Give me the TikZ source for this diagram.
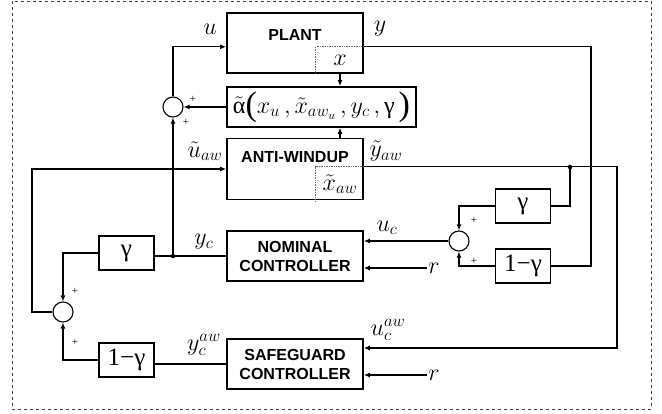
\RequirePackage{fix-cm}
\documentclass[tikz,border=0pt]{standalone}
\usepackage{fontspec}
\setsansfont{Liberation Sans}
\newfontfamily\tms{Liberation Serif}
\usetikzlibrary{arrows.meta}
\newcommand{\bigpar}[1]{\mbox{\fontsize{34}{34}\selectfont\tms\raisebox{-2pt}{#1}}}
\begin{document}
\begin{tikzpicture}[x=1pt, y=-1pt,
    block/.style={draw, line width=1.8pt, inner sep=0pt, align=center,
                  font=\fontsize{16}{19}\selectfont\sffamily\bfseries},
    bname/.style={font=\fontsize{16}{19}\selectfont\sffamily\bfseries},
    xbox/.style={inner sep=0pt, minimum width=48pt, font=\fontsize{24}{26}\selectfont},
    state/.style={draw=black!60, densely dotted, line width=0.7pt},
    gain/.style={block, font=\fontsize{25}{27}\selectfont\tms,
                 minimum width=55pt, minimum height=34pt},
    sum/.style={circle, draw, line width=1.1pt, minimum size=20pt, inner sep=0pt},
    sig/.style={font=\fontsize{24}{26}\selectfont, inner sep=1pt},
    plus/.style={font=\fontsize{11}{11}\selectfont\tms, inner sep=0pt},
    wire/.style={line width=1.1pt},
    feed/.style={wire, -{Latex[length=6pt,width=5pt]}},
    junct/.style={circle, fill, inner sep=1.6pt},
]
\useasboundingbox (0,0) rectangle (662,413);
\draw[dashed, black!75, line width=0.9pt] (12,1) rectangle (651,409);

% Plant with its state
\node[block, minimum width=136pt, minimum height=60pt] (plant) at (295,43) {};
\node[bname] (plantname) at (295,35) {PLANT};
\node[xbox, minimum height=26pt] (plantx) at (340,60) {$x$};
\draw[state] (plantx.south west) |- (plantx.north east);

% Correction term
\node[block, minimum width=189pt, minimum height=40pt,
      font=\fontsize{24}{26}\selectfont] (alpha) at (321.5,107)
      {$\tilde{\mbox{\tms α}}\bigpar{(}x_u\,,\tilde{x}_{aw_u}\,,y_c\,,\mbox{\tms γ}\,\bigpar{)}$};

% Anti-windup with its state
\node[block, minimum width=136pt, minimum height=61pt] (aw) at (295,169) {};
\node[bname] (awname) at (295,157) {ANTI-WINDUP};
\node[xbox, minimum height=34pt] (awx) at (340,184) {$\tilde{x}_{aw}$};
\draw[state] (awx.south west) |- (awx.north east);

% Controllers
\node[block, minimum width=136pt, minimum height=50pt] (nom) at (295,256) {NOMINAL\\CONTROLLER};
\node[block, minimum width=136pt, minimum height=50pt] (safe) at (295,364) {SAFEGUARD\\CONTROLLER};

% Gains
\node[gain] (gR) at (523,206) {γ};
\node[gain] (ngR) at (523,266) {1−γ};
\node[gain] (gL) at (126.5,253) {γ};
\node[gain] (ngL) at (126.5,360) {1−γ};

% Summing junctions
\node[sum] (sumU) at (173,107) {};
\node[sum] (sumC) at (459,241) {};
\node[sum] (sumA) at (63,312) {};

\node[junct] (dotaw) at (570,167) {};
\node[junct] (dotyc) at (173,256) {};
\coordinate (ycol) at (591,0);
\coordinate (awcol) at (617,0);
\coordinate (fbcol) at (32,0);

% Plant loop
\draw[feed] (sumU.north) |- (plantx.north -| plant.west);
\draw[feed] (plantx.south) -- (plantx.south |- alpha.north);
\draw[feed] (awx.north |- aw.north) -- (awx.north |- alpha.south);
\draw[feed] (alpha.west) -- (sumU.east);
\draw[wire] (plantx.north -| plant.east) -- (plantx.north -| ycol) |- (ngR.east);

% Anti-windup output
\draw[feed] (awx.north -| aw.east) -- (awx.north -| awcol) |- ([yshift=16pt]safe.east);
\draw[wire] (dotaw) |- (gR.east);

% Blend into nominal controller
\draw[feed] (gR.west) -| (sumC.north);
\draw[feed] (ngR.west) -| (sumC.south);
\draw[feed] (sumC.west) -- (sumC.west -| nom.east);
\node[sig] (rN) at (434,268) {$r$};
\node[sig] (rS) at (434,375) {$r$};
\draw[feed] (rN.west) -- (rN.west -| nom.east);
\draw[feed] (rS.west) -- (rS.west -| safe.east);

% Blend of controller outputs
\draw[wire] (nom.west) -- (nom.west -| gL.east);
\draw[feed] (dotyc) -- (sumU.south);
\draw[wire] (safe.west) -- (safe.west -| ngL.east);
\draw[feed] (gL.west) -| (sumA.north);
\draw[feed] (ngL.west) -| (sumA.south);
\draw[feed] (sumA.west) -| (fbcol |- aw.west) -- (aw.west);

% Signal labels
\node[sig] (lu) at (210,29) {$u$};
\node[sig] (ly) at (380,29) {$y$};
\node[sig] (luaw) at (205,151) {$\tilde{u}_{aw}$};
\node[sig] (lyaw) at (386,151) {$\tilde{y}_{aw}$};
\node[sig] (luc) at (387,228) {$u_c$};
\node[sig] (lyc) at (204,242) {$y_c$};
\node[sig] (lucaw) at (388,330) {$u_c^{aw}$};
\node[sig] (lycaw) at (204,345) {$y_c^{aw}$};

% Signs
\node[plus] (p1) at (193,99) {+};
\node[plus] (p2) at (186,122) {+};
\node[plus] (p3) at (474,220) {+};
\node[plus] (p4) at (474,261) {+};
\node[plus] (p5) at (75,291) {+};
\node[plus] (p6) at (75,342) {+};
\end{tikzpicture}
\end{document}
